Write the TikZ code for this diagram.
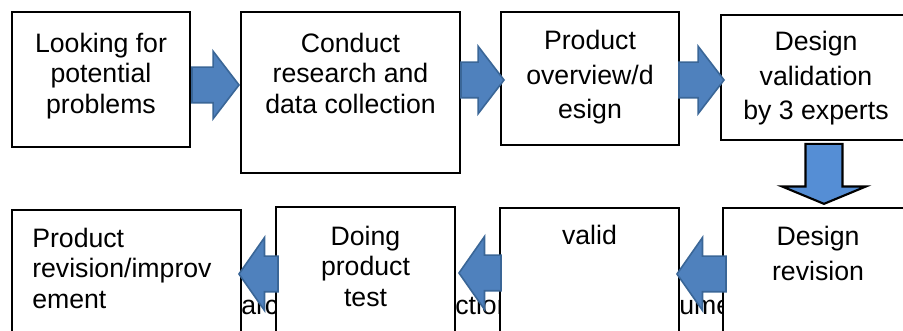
\documentclass[tikz,border=0pt]{standalone}
\usepackage{fontspec}
\setmainfont{Liberation Sans}
\usetikzlibrary{shapes.arrows}

\definecolor{arrowblue}{HTML}{4F81BD}
\definecolor{arrowedge}{HTML}{3A6697}
\definecolor{downblue}{HTML}{558ED5}

\tikzset{
  stagebox/.style={draw, line width=1.6pt, fill=white, inner sep=0pt},
  stagetext/.style={inner sep=0pt, align=center, font=\fontsize{20}{22.8}\selectfont},
  widetext/.style={stagetext, font=\fontsize{20}{26}\selectfont},
  flowarrow/.style={single arrow, fill=arrowblue, draw=arrowedge, line width=1.2pt,
    inner xsep=0pt, inner ysep=12.75pt, single arrow head extend=12pt,
    single arrow tip angle=105, anchor=tip},
  backarrow/.style={flowarrow, shape border rotate=180,
    single arrow head extend=14pt, single arrow tip angle=110},
}

\begin{document}
\begin{tikzpicture}[x=0.75pt,y=-0.75pt]

  % white page, cut to size
  \useasboundingbox (0,0) rectangle (903,331);
  \fill [white] (0,0) rectangle (903,331);
  \clip (0,0) rectangle (903,331);

  % text line lying behind the lower boxes
  \node [stagetext, anchor=base west] (frag1) at (241,315) {arch};
  \node [stagetext, anchor=base west] (frag2) at (455,315) {ction};
  \node [stagetext, anchor=base west] (frag3) at (679,315) {ument};

  % upper row of boxes
  \node [stagebox, minimum width=133.5pt, minimum height=101.25pt] (b1) at (101,79.5) {};
  \node [stagebox, minimum width=164.25pt, minimum height=120.75pt] (b2) at (350.5,92.5) {};
  \node [stagebox, minimum width=133.5pt, minimum height=99.75pt] (b3) at (590,78.5) {};
  \node [stagebox, minimum width=142.5pt, minimum height=93.75pt] (b4) at (816,77.5) {};

  % lower row of boxes
  \node [stagebox, minimum width=171.75pt, minimum height=101.25pt] (b5) at (126.5,277.5) {};
  \node [stagebox, minimum width=134.25pt, minimum height=103.5pt] (b6) at (365.5,276) {};
  \node [stagebox, minimum width=134.25pt, minimum height=102.75pt] (b7) at (589.5,276.5) {};
  \node [stagebox, minimum width=142.5pt, minimum height=102.75pt] (b8) at (818,276.5) {};

  % box texts
  \node [stagetext, anchor=north] (t1) at (101,33) {Looking for\\potential\\problems};
  \node [stagetext, anchor=north] (t2) at (350.5,33) {Conduct\\research and\\data collection};
  \node [widetext, anchor=north] (t3) at (590,30) {Product\\overview/d\\esign};
  \node [widetext, anchor=north] (t4) at (816,31) {Design\\validation\\by 3 experts};
  \node [stagetext, anchor=north west, align=left] (t5) at (32,228) {Product\\revision/improv\\ement};
  \node [stagetext, anchor=north] (t6) at (365.5,226) {Doing\\product\\test};
  \node [stagetext, anchor=north] (t7) at (589.5,225) {valid};
  \node [widetext, anchor=north] (t8) at (818,226) {Design\\revision};

  % block arrows, upper row (placed by their tips)
  \node [flowarrow, minimum height=35.25pt] (a12) at (240,85) {};
  \node [flowarrow, minimum height=32.25pt] (a23) at (505,80) {};
  \node [flowarrow, minimum height=33.75pt] (a34) at (725,80) {};

  % block arrow going down
  \node [single arrow, shape border rotate=270, fill=downblue, draw=black, line width=1.6pt,
    inner sep=13.1pt, minimum height=45pt, anchor=tip,
    single arrow head extend=17.6pt, single arrow tip angle=135] (a48) at (824,205) {};

  % block arrows, lower row
  \node [backarrow, minimum height=29.25pt] (a65) at (238,274) {};
  \node [backarrow, minimum height=31.5pt] (a76) at (458,273) {};
  \node [backarrow, minimum height=36.75pt] (a87) at (676,274) {};

\end{tikzpicture}
\end{document}
